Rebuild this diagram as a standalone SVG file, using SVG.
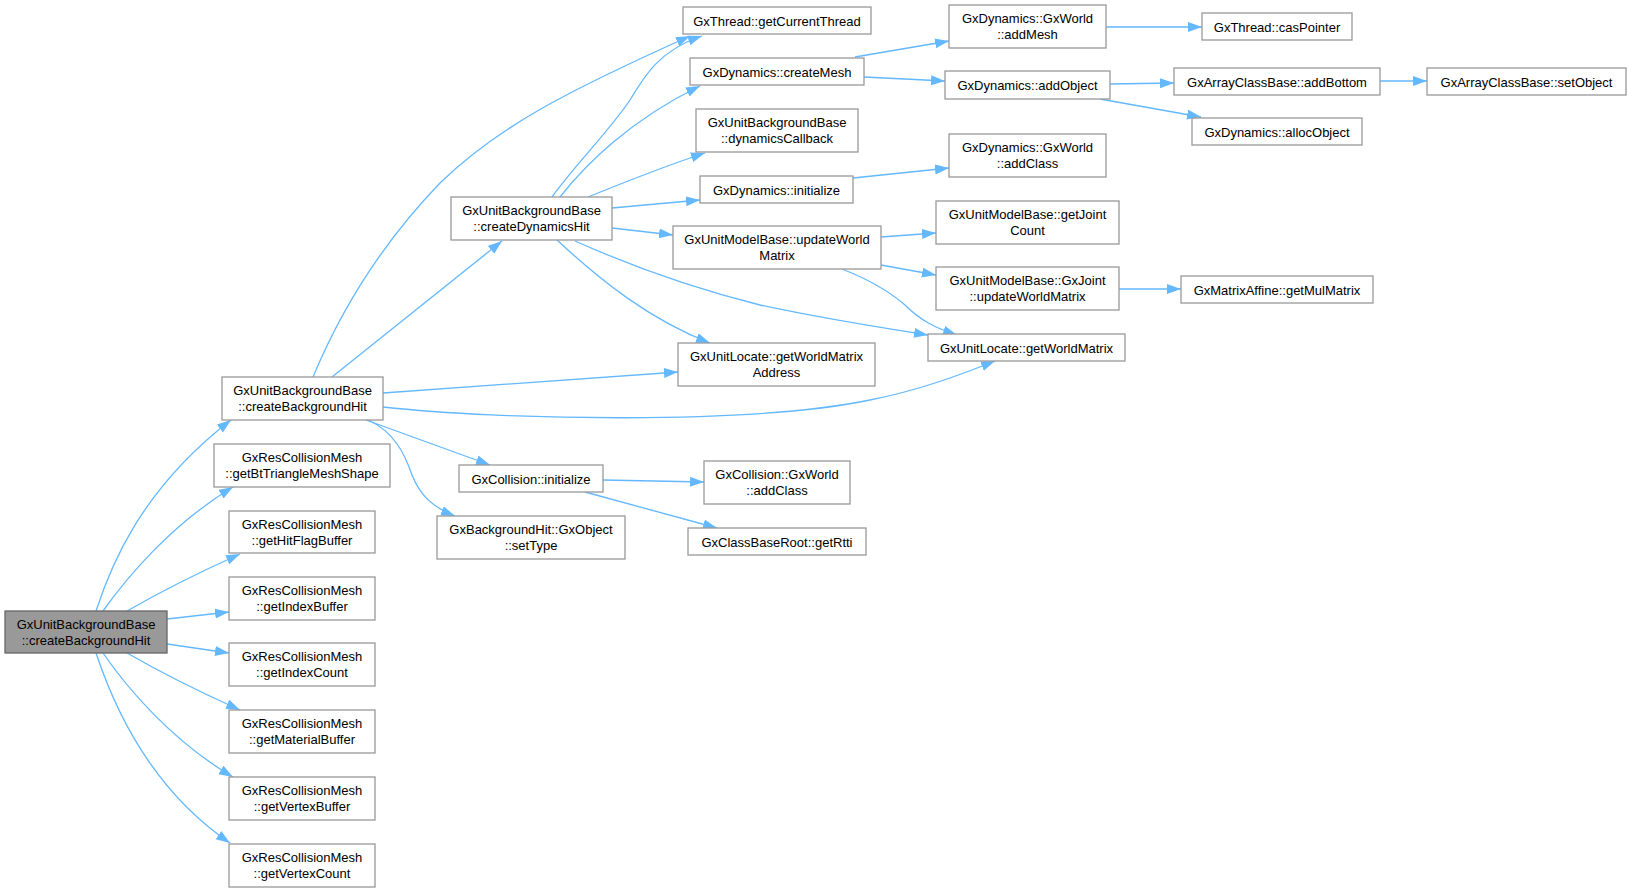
<svg xmlns="http://www.w3.org/2000/svg" width="1628" height="892" viewBox="0 0 1628 892">
<style>
.node rect{fill:#ffffff;stroke:#999999;stroke-width:1.3}
.main rect{fill:#999999;stroke:#666666;stroke-width:1.3}
text{font-family:"Liberation Sans",Arial,Helvetica,sans-serif;font-size:13px;fill:#000000;text-anchor:middle}
.edges path{fill:none;stroke:#63b8ff;stroke-width:1.3;marker-end:url(#arr)}
</style>
<defs>
<marker id="arr" markerUnits="userSpaceOnUse" markerWidth="15" markerHeight="11" refX="14" refY="5" orient="auto">
<path d="M0,0 L14,5 L0,10 z" fill="#63b8ff"/>
</marker>
</defs>
<rect width="1628" height="892" fill="#ffffff"/>
<g class="edges" id="edges">
<path d="M96,611 C110,568 140,490 231,420"/>
<path d="M103,611 C125,580 170,525 233,487"/>
<path d="M127,611 C160,592 200,572 240,554"/>
<path d="M167,619 L229,612"/>
<path d="M167,644 L229,653"/>
<path d="M127,653 C160,672 200,692 240,710"/>
<path d="M103,653 C125,685 170,740 233,777"/>
<path d="M96,653 C110,695 145,785 230,843"/>
<path d="M313,377 C345,300 390,235 440,183 C500,125 570,90 690,36"/>
<path d="M332,377 L502,241"/>
<path d="M383,393 L678,372"/>
<path d="M383,407 C500,420 750,425 870,400 C920,390 960,375 995,361"/>
<path d="M366,420 L490,465"/>
<path d="M368,420 C395,432 405,455 412,475 C420,495 432,507 455,516"/>
<path d="M552,197 C575,165 610,130 630,100 C645,75 660,50 702,36"/>
<path d="M560,197 C585,165 630,120 700,86"/>
<path d="M588,197 C625,182 665,166 705,153"/>
<path d="M612,208 L700,200"/>
<path d="M612,228 L673,235"/>
<path d="M557,240 C600,280 650,320 710,343"/>
<path d="M575,241 C640,270 700,290 760,305 C820,318 870,326 928,335"/>
<path d="M855,57 L949,41"/>
<path d="M864,77 L945,81"/>
<path d="M1106,27 L1202,27"/>
<path d="M1110,84 L1174,83"/>
<path d="M1100,99 L1201,117"/>
<path d="M1380,81 L1427,81"/>
<path d="M853,178 L949,168"/>
<path d="M881,237 L936,233"/>
<path d="M881,265 L936,275"/>
<path d="M842,269 C870,280 890,292 905,305 C920,320 935,328 957,335"/>
<path d="M1119,289 L1181,289"/>
<path d="M603,480 L704,482"/>
<path d="M585,492 L717,528"/>
</g>
<g class="node main" id="n_main"><rect x="5" y="611" width="162" height="42"/><text x="86" y="628.5">GxUnitBackgroundBase</text><text x="86" y="644.5">::createBackgroundHit</text></g>
<g class="node" id="n_cbh"><rect x="222" y="377" width="161" height="43"/><text x="302.5" y="395">GxUnitBackgroundBase</text><text x="302.5" y="411">::createBackgroundHit</text></g>
<g class="node" id="n_btmesh"><rect x="214" y="444" width="176" height="43"/><text x="302" y="462">GxResCollisionMesh</text><text x="302" y="478">::getBtTriangleMeshShape</text></g>
<g class="node" id="n_hitflag"><rect x="229" y="511" width="146" height="42"/><text x="302" y="528.5">GxResCollisionMesh</text><text x="302" y="544.5">::getHitFlagBuffer</text></g>
<g class="node" id="n_idxbuf"><rect x="229" y="577" width="146" height="43"/><text x="302" y="595">GxResCollisionMesh</text><text x="302" y="611">::getIndexBuffer</text></g>
<g class="node" id="n_idxcnt"><rect x="229" y="643" width="146" height="43"/><text x="302" y="661">GxResCollisionMesh</text><text x="302" y="677">::getIndexCount</text></g>
<g class="node" id="n_matbuf"><rect x="229" y="710" width="146" height="43"/><text x="302" y="728">GxResCollisionMesh</text><text x="302" y="744">::getMaterialBuffer</text></g>
<g class="node" id="n_vtxbuf"><rect x="229" y="777" width="146" height="43"/><text x="302" y="795">GxResCollisionMesh</text><text x="302" y="811">::getVertexBuffer</text></g>
<g class="node" id="n_vtxcnt"><rect x="229" y="844" width="146" height="43"/><text x="302" y="862">GxResCollisionMesh</text><text x="302" y="878">::getVertexCount</text></g>
<g class="node" id="n_cdh"><rect x="451" y="197" width="161" height="43"/><text x="531.5" y="215">GxUnitBackgroundBase</text><text x="531.5" y="231">::createDynamicsHit</text></g>
<g class="node" id="n_colinit"><rect x="459" y="465" width="144" height="27"/><text x="531" y="484">GxCollision::initialize</text></g>
<g class="node" id="n_settype"><rect x="437" y="516" width="188" height="43"/><text x="531" y="534">GxBackgroundHit::GxObject</text><text x="531" y="550">::setType</text></g>
<g class="node" id="n_curthread"><rect x="683" y="7" width="188" height="27"/><text x="777" y="26">GxThread::getCurrentThread</text></g>
<g class="node" id="n_createmesh"><rect x="690" y="58" width="174" height="27"/><text x="777" y="77">GxDynamics::createMesh</text></g>
<g class="node" id="n_dyncb"><rect x="696" y="109" width="162" height="43"/><text x="777" y="127">GxUnitBackgroundBase</text><text x="777" y="143">::dynamicsCallback</text></g>
<g class="node" id="n_dyninit"><rect x="700" y="176" width="153" height="27"/><text x="776.5" y="195">GxDynamics::initialize</text></g>
<g class="node" id="n_uwm"><rect x="673" y="226" width="208" height="43"/><text x="777" y="244">GxUnitModelBase::updateWorld</text><text x="777" y="260">Matrix</text></g>
<g class="node" id="n_gwma"><rect x="678" y="343" width="197" height="43"/><text x="776.5" y="361">GxUnitLocate::getWorldMatrix</text><text x="776.5" y="377">Address</text></g>
<g class="node" id="n_coladd"><rect x="704" y="461" width="146" height="43"/><text x="777" y="479">GxCollision::GxWorld</text><text x="777" y="495">::addClass</text></g>
<g class="node" id="n_rtti"><rect x="688" y="528" width="178" height="27"/><text x="777" y="547">GxClassBaseRoot::getRtti</text></g>
<g class="node" id="n_addmesh"><rect x="949" y="5" width="157" height="43"/><text x="1027.5" y="23">GxDynamics::GxWorld</text><text x="1027.5" y="39">::addMesh</text></g>
<g class="node" id="n_addobj"><rect x="945" y="71" width="165" height="28"/><text x="1027.5" y="90">GxDynamics::addObject</text></g>
<g class="node" id="n_dynadd"><rect x="949" y="134" width="157" height="43"/><text x="1027.5" y="152">GxDynamics::GxWorld</text><text x="1027.5" y="168">::addClass</text></g>
<g class="node" id="n_jcount"><rect x="936" y="201" width="183" height="43"/><text x="1027.5" y="219">GxUnitModelBase::getJoint</text><text x="1027.5" y="235">Count</text></g>
<g class="node" id="n_juwm"><rect x="936" y="267" width="183" height="43"/><text x="1027.5" y="285">GxUnitModelBase::GxJoint</text><text x="1027.5" y="301">::updateWorldMatrix</text></g>
<g class="node" id="n_gwm"><rect x="928" y="334" width="197" height="27"/><text x="1026.5" y="353">GxUnitLocate::getWorldMatrix</text></g>
<g class="node" id="n_caspt"><rect x="1202" y="13" width="150" height="27"/><text x="1277" y="32">GxThread::casPointer</text></g>
<g class="node" id="n_addbot"><rect x="1174" y="68" width="206" height="27"/><text x="1277" y="87">GxArrayClassBase::addBottom</text></g>
<g class="node" id="n_alloc"><rect x="1192" y="118" width="170" height="27"/><text x="1277" y="137">GxDynamics::allocObject</text></g>
<g class="node" id="n_mul"><rect x="1181" y="276" width="192" height="27"/><text x="1277" y="295">GxMatrixAffine::getMulMatrix</text></g>
<g class="node" id="n_setobj"><rect x="1427" y="68" width="199" height="27"/><text x="1526.5" y="87">GxArrayClassBase::setObject</text></g>
</svg>
